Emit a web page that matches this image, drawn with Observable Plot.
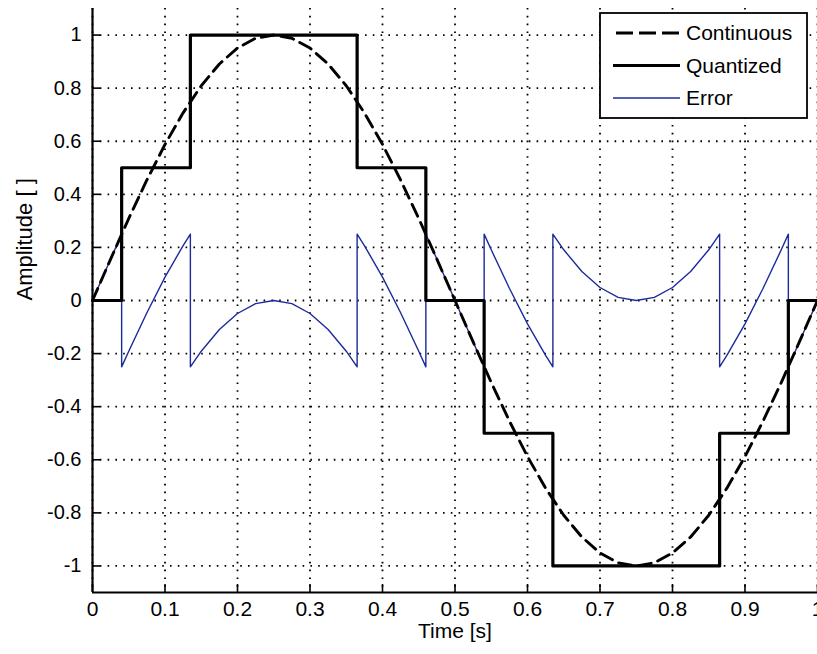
<!DOCTYPE html>
<html><head><meta charset="utf-8">
<script src="https://cdn.jsdelivr.net/npm/d3@7"></script>
<script src="https://cdn.jsdelivr.net/npm/@observablehq/plot@0.6"></script>
<style>
body{margin:0;background:#fff;}
#chart{position:relative;width:817px;height:654px;overflow:hidden;background:#fff;}
</style>
</head><body><div id="chart"></div>
<script>
// ---- data ----
const contT = [0,0.025,0.05,0.075,0.1,0.125,0.15,0.175,0.2,0.225,0.25,0.275,0.3,0.325,0.35,0.375,0.4,0.425,0.45,0.475,0.5,
               0.525,0.55,0.575,0.6,0.625,0.65,0.675,0.7,0.725,0.75,0.775,0.8,0.825,0.85,0.875,0.9,0.925,0.95,0.975,1];
const contV = [0,0.156,0.309,0.454,0.588,0.707,0.809,0.891,0.951,0.988,1,0.988,0.951,0.891,0.809,0.707,0.588,0.454,0.309,0.156,0,
               -0.156,-0.309,-0.454,-0.588,-0.707,-0.809,-0.891,-0.951,-0.988,-1,-0.988,-0.951,-0.891,-0.809,-0.707,-0.588,-0.454,-0.309,-0.156,0];

const quantT = [0,0.0402,0.135,0.365,0.4598,0.5402,0.635,0.865,0.9598,1];
const quantV = [0,0.5,1,0.5,0,-0.5,-1,-0.5,0,0];

const errT = [0,0.025,0.0402,0.0402,0.05,0.075,0.1,0.125,0.135,0.135,0.15,0.175,0.2,0.225,0.25,0.275,0.3,0.325,0.35,0.365,
              0.365,0.375,0.4,0.425,0.45,0.4598,0.4598,0.475,0.5,0.525,0.5402,0.5402,0.55,0.575,0.6,0.625,0.635,
              0.635,0.65,0.675,0.7,0.725,0.75,0.775,0.8,0.825,0.85,0.865,0.865,0.875,0.9,0.925,0.95,0.9598,0.9598,0.975,1];
const errV = [0,0.156,0.25,-0.25,-0.191,-0.046,0.088,0.207,0.25,-0.25,-0.191,-0.109,-0.049,-0.012,0,-0.012,-0.049,-0.109,-0.191,-0.25,
              0.25,0.207,0.088,-0.046,-0.191,-0.25,0.25,0.156,0,-0.156,-0.25,0.25,0.191,0.046,-0.088,-0.207,-0.25,
              0.25,0.191,0.109,0.049,0.012,0,0.012,0.049,0.109,0.191,0.25,-0.25,-0.207,-0.088,0.046,0.191,0.25,-0.25,-0.156,0];

const xTicks = [0,0.1,0.2,0.3,0.4,0.5,0.6,0.7,0.8,0.9,1];
const xTickLabels = ["0","0.1","0.2","0.3","0.4","0.5","0.6","0.7","0.8","0.9","1"];
const yTicks = [-1,-0.8,-0.6,-0.4,-0.2,0,0.2,0.4,0.6,0.8,1];
const yTickLabels = ["-1","-0.8","-0.6","-0.4","-0.2","0","0.2","0.4","0.6","0.8","1"];
const xLabel = "Time [s]";
const yLabel = "Amplitude [ ]";
const seriesNames = ["Continuous","Quantized","Error"];

// ---- build tables ----
const cont = contT.map((t,i)=>({t, v:contV[i]}));
const quant = quantT.map((t,i)=>({t, v:quantV[i]}));
const err = errT.map((t,i)=>({t, v:errV[i]}));
const xLab = new Map(xTicks.map((d,i)=>[d,xTickLabels[i]]));
const yLab = new Map(yTicks.map((d,i)=>[d,yTickLabels[i]]));

const W = 817, H = 654, mL = 92, mR = 0, mT = 8, mB = 62;
const font = "'Liberation Sans', Arial, Helvetica, sans-serif";
const blue = "#1c2a9c";
const gridStyle = {stroke:"#000", strokeOpacity:1, strokeWidth:1.8, strokeDasharray:"1.6,6.2"};

const chart = Plot.plot({
  width: W, height: H,
  marginLeft: mL, marginRight: mR, marginTop: mT, marginBottom: mB,
  style: {fontFamily: font, background: "#fff", color: "#000", overflow: "visible"},
  x: {domain: [0, 1]},
  y: {domain: [-1.1, 1.1]},
  marks: [
    Plot.gridX(xTicks, gridStyle),
    Plot.gridY(yTicks, gridStyle),
    Plot.line(err, {x:"t", y:"v", stroke: blue, strokeWidth: 1.4}),
    Plot.line(quant, {x:"t", y:"v", curve:"step-after", stroke:"#000", strokeWidth: 3.2}),
    Plot.line(cont, {x:"t", y:"v", stroke:"#000", strokeWidth: 2.9, strokeDasharray:"13,7"}),
    Plot.tickX(xTicks, {x: d=>d, stroke:"#000", strokeWidth:1.6, insetTop: (H-mT-mB)-8}),
    Plot.tickY(yTicks, {y: d=>d, stroke:"#000", strokeWidth:1.6, insetRight: (W-mL-mR)-8}),
    Plot.ruleX([0], {stroke:"#000", strokeWidth: 2.2}),
    Plot.ruleY([-1.1], {stroke:"#000", strokeWidth: 2.2}),
    Plot.axisX(xTicks, {tickSize: 0, tickPadding: 9, fontSize: 21, tickFormat: d => xLab.get(d), label: null}),
    Plot.axisY(yTicks, {tickSize: 0, tickPadding: 11, fontSize: 20, tickFormat: d => yLab.get(d), label: null}),
    Plot.text([xLabel], {frameAnchor: "bottom", dy: 45, fontSize: 21, text: d=>d}),
    Plot.text([yLabel], {frameAnchor: "left", dx: -68, rotate: -90, fontSize: 22, text: d=>d})
  ]
});
document.getElementById("chart").appendChild(chart);

// ---- legend inside the plot (top-right) ----
const svg = d3.select(chart);
const lg = svg.append("g").attr("font-family", font).attr("font-size", 21).attr("text-anchor", "start");
lg.append("rect").attr("x", 600).attr("y", 13).attr("width", 207).attr("height", 105)
  .attr("fill", "#fff").attr("stroke", "#000").attr("stroke-width", 1.8);
const legendStyles = [
  {stroke:"#000", width:2.9, dash:"17,6", x1:616},
  {stroke:"#000", width:3.2, dash:null, x1:613},
  {stroke:blue, width:1.6, dash:null, x1:613}
];
seriesNames.forEach((name, i) => {
  const y = 33 + i * 32.5;
  const s = legendStyles[i];
  lg.append("line").attr("x1", s.x1).attr("x2", 680).attr("y1", y).attr("y2", y)
    .attr("stroke", s.stroke).attr("stroke-width", s.width).attr("stroke-dasharray", s.dash);
  lg.append("text").attr("x", 686).attr("y", y).attr("dy", "0.35em").attr("fill", "#000")
    .attr("text-anchor", "start").text(name);
});
</script>
</body></html>
